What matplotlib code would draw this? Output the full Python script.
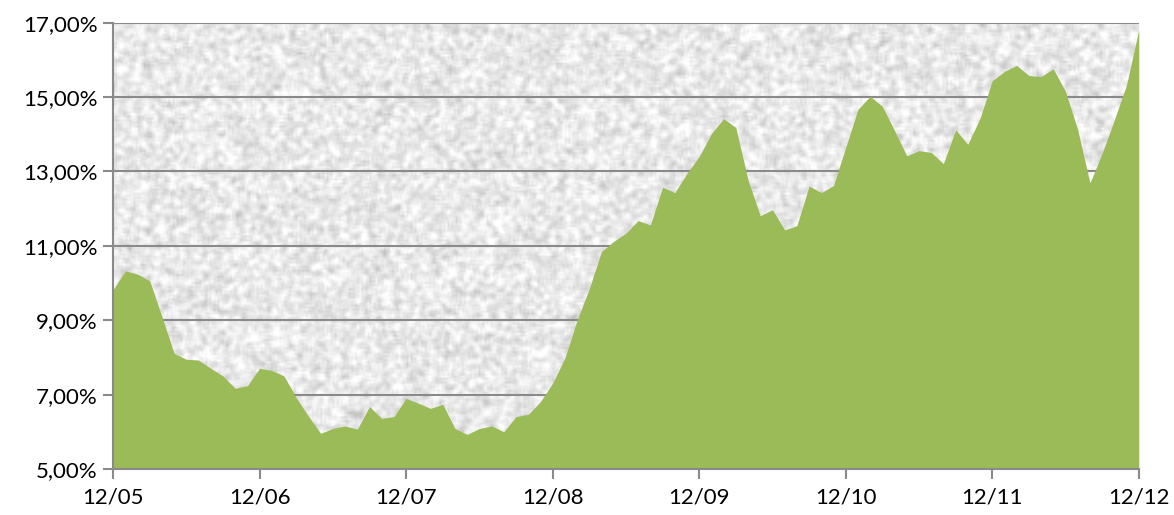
import numpy as np
import matplotlib
matplotlib.use("Agg")
import matplotlib.pyplot as plt
from matplotlib.ticker import FuncFormatter

# monthly values, 12/05 .. 12/12 (in %)
rates = [9.82, 10.33, 10.24, 10.06, 9.10, 8.11, 7.95, 7.93, 7.71, 7.50, 7.17, 7.24,
         7.71, 7.65, 7.50, 6.92, 6.42, 5.96, 6.09, 6.16, 6.07, 6.68, 6.36, 6.41,
         6.90, 6.77, 6.63, 6.74, 6.09, 5.93, 6.09, 6.16, 6.00, 6.41, 6.47, 6.81,
         7.31, 7.98, 9.00, 9.85, 10.85, 11.12, 11.34, 11.68, 11.56, 12.58, 12.43, 12.95,
         13.40, 14.02, 14.42, 14.18, 12.77, 11.81, 11.97, 11.43, 11.54, 12.61, 12.43, 12.62,
         13.65, 14.67, 15.02, 14.75, 14.10, 13.42, 13.56, 13.51, 13.21, 14.12, 13.73, 14.43,
         15.44, 15.69, 15.85, 15.58, 15.55, 15.76, 15.15, 14.12, 12.69, 13.49, 14.39, 15.33,
         16.81]
tick_labels = ["12/05", "12/06", "12/07", "12/08", "12/09", "12/10", "12/11", "12/12"]
y_ticks = [5, 7, 9, 11, 13, 15, 17]

plt.rcParams['font.family'] = ['Lato', 'DejaVu Sans']

fig = plt.figure(figsize=(11.74, 5.15), dpi=100)
ax = fig.add_axes([0.0963, 0.0893, 0.8737, 0.8667])

months = np.arange(len(rates))

# light grey stone-like texture for the plot background (decoration only)
rng = np.random.default_rng(3)
h, w = 220, 500
noise = rng.random((h, w))
pad = np.pad(noise, 1, mode="wrap")
smooth = sum(pad[i:i + h, j:j + w] for i in range(3) for j in range(3)) / 9.0
grey = np.clip(0.915 + (smooth - 0.5) * 0.45, 0, 1)
tex = np.dstack([grey, grey, grey])
ax.imshow(tex, aspect="auto", extent=[0, len(rates) - 1, 5, 17], zorder=0,
          interpolation="bilinear")

for v in y_ticks[1:]:
    ax.axhline(v, color="#8a8a8a", linewidth=1.5, zorder=1)

ax.fill_between(months, 5, rates, color="#9BBB59", linewidth=0, zorder=2)

ax.set_xlim(0, len(rates) - 1)
ax.set_ylim(5, 17)
ax.set_yticks(y_ticks)
ax.yaxis.set_major_formatter(FuncFormatter(lambda v, p: f"{v:.2f}%".replace(".", ",")))
ax.set_xticks(np.arange(0, len(rates), 12))
ax.set_xticklabels(tick_labels)

for s in ["top", "right"]:
    ax.spines[s].set_visible(False)
for s in ["left", "bottom"]:
    ax.spines[s].set_color("#8a8a8a")
    ax.spines[s].set_linewidth(1.5)
    ax.spines[s].set_zorder(3)

ax.tick_params(axis="both", colors="#8a8a8a", labelcolor="black", labelsize=16,
               length=7, width=1.5)
ax.tick_params(axis="x", pad=6)
ax.tick_params(axis="y", pad=4)

fig.savefig("out.png", dpi=100)
